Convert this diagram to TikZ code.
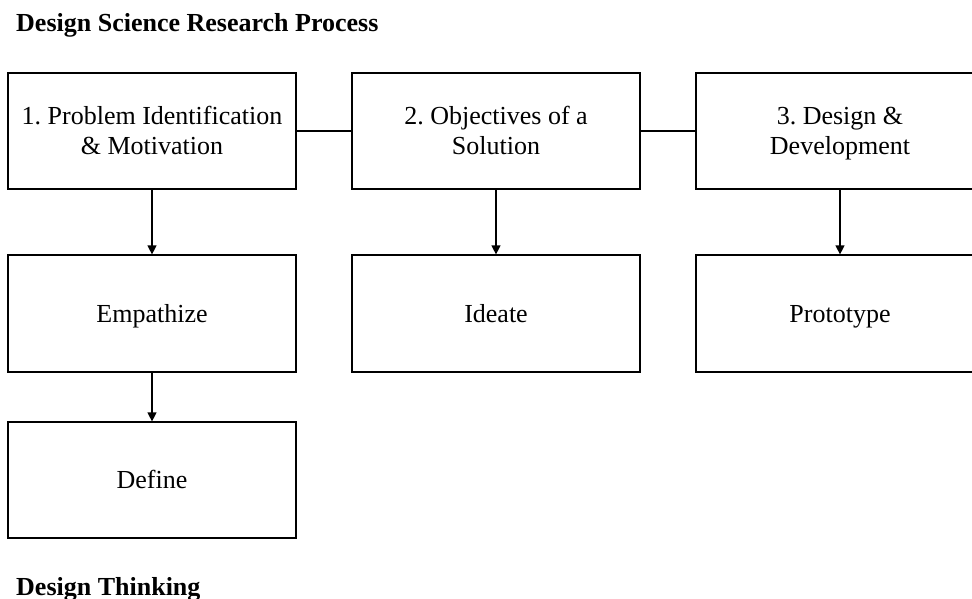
\documentclass[tikz,border=0pt]{standalone}
\usepackage{fontspec}
\setmainfont{Liberation Serif}
\usetikzlibrary{arrows.meta}
\newcommand\boxstrut{\rule[-7pt]{0pt}{31pt}}
\begin{document}
\frenchspacing
\begin{tikzpicture}[x=1pt,y=-1pt,
 box/.style={draw,line width=1.2pt,minimum width=288pt,minimum height=116pt,inner sep=0pt,align=center,font=\fontsize{26}{31}\selectfont\frenchspacing},
 arr/.style={line width=1.2pt,-{Triangle[width=9pt,length=9pt]}},
 link/.style={line width=1.2pt},
 ttl/.style={anchor=base west,inner sep=0pt,font=\fontsize{26}{31}\selectfont\bfseries}]
\useasboundingbox (0,0) rectangle (972,599);
\clip (0,0) rectangle (972,599);
\node[ttl] (t1) at (16,32) {Design Science Research Process};
\node[ttl] (t2) at (16,595) {Design Thinking};
\node[box] (p1) at (152,131) {\boxstrut 1. Problem Identification\\\boxstrut\& Motivation};
\node[box] (p2) at (496,131) {\boxstrut 2. Objectives of a\\\boxstrut Solution};
\node[box] (p3) at (840,131) {\boxstrut 3. Design \&\\\boxstrut Development};
\node[box,minimum height=117pt] (emp) at (152,313.5) {\boxstrut Empathize};
\node[box,minimum height=117pt] (ide) at (496,313.5) {\boxstrut Ideate};
\node[box,minimum height=117pt] (pro) at (840,313.5) {\boxstrut Prototype};
\node[box] (def) at (152,480) {\boxstrut Define};
\draw[link] (p1.east) -- (p2.west);
\draw[link] (p2.east) -- (p3.west);
\draw[arr] (p1.south) -- (emp.north);
\draw[arr] (p2.south) -- (ide.north);
\draw[arr] (p3.south) -- (pro.north);
\draw[arr] (emp.south) -- (def.north);
\end{tikzpicture}
\end{document}
